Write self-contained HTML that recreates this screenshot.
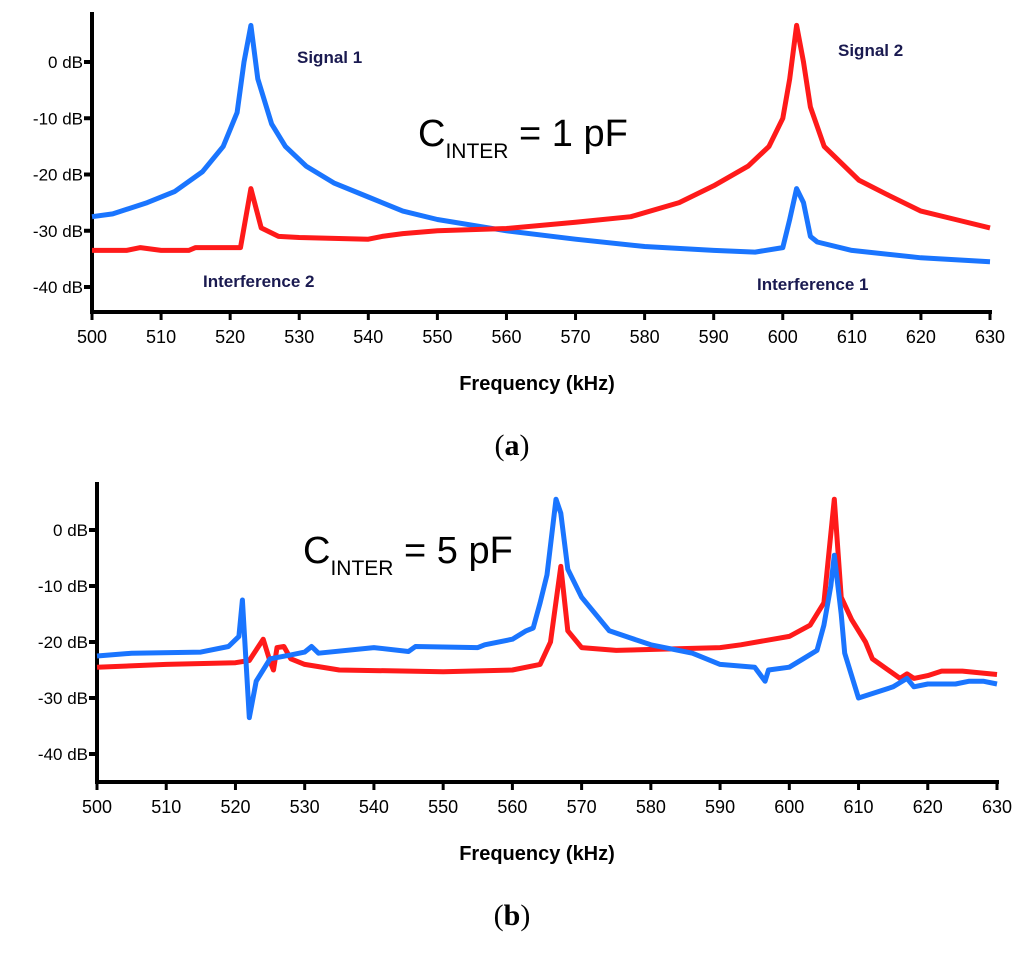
<!DOCTYPE html>
<html><head><meta charset="utf-8">
<style>
body{margin:0;background:#fff;}
svg text{font-family:"Liberation Sans",sans-serif;}
</style></head>
<body>
<svg width="1024" height="952" xmlns="http://www.w3.org/2000/svg">
<g id="chartA"></g>
<g id="chartB"></g>
<text x="512" y="455" text-anchor="middle" style="font-family:'Liberation Serif',serif;font-size:30px">(<tspan font-weight="bold">a</tspan>)</text>
<text x="512" y="925" text-anchor="middle" style="font-family:'Liberation Serif',serif;font-size:30px">(<tspan font-weight="bold">b</tspan>)</text>
</svg>
<script>
const xTicks=[500,510,520,530,540,550,560,570,580,590,600,610,620,630];
const yTicks=[0,-10,-20,-30,-40];
const aBlueF=[500,503,508,512,516,519,521,522,523,524,526,528,531,535,540,545,550,560,570,580,590,596,600,601,602,603,604,605,610,620,630];
const aBlueV=[-27.5,-27,-25,-23,-19.5,-15,-9,0,6.5,-3,-11,-15,-18.5,-21.5,-24,-26.5,-28,-30,-31.5,-32.8,-33.5,-33.8,-33,-28,-22.5,-25,-31,-32,-33.5,-34.8,-35.5];
const aRedF=[500,505,507,510,514,515,520,521.5,523,524.5,527,530,540,542,545,550,560,570,578,585,590,595,598,600,601,602,603,604,606,611,615,620,625,630];
const aRedV=[-33.5,-33.5,-33,-33.5,-33.5,-33,-33,-33,-22.5,-29.5,-31,-31.2,-31.5,-31,-30.5,-30,-29.6,-28.5,-27.5,-25,-22,-18.5,-15,-10,-3,6.5,0,-8,-15,-21,-23.5,-26.5,-28,-29.5];
const bBlueF=[500,505,515,519,520.5,521,522,523,525,528,530,531,532,540,545,546,555,556,560,562,563,564,565,566.3,567,568,570,574,580,586,590,595,596.5,597,600,602,604,605,606,606.5,607.5,608,610,615,617,618,620,624,626,628,630];
const bBlueV=[-22.5,-22,-21.8,-20.8,-19,-12.5,-33.5,-27,-23,-22.3,-21.8,-20.8,-22,-21,-21.7,-20.8,-21,-20.5,-19.5,-18,-17.5,-13,-8,5.5,3,-7,-12,-18,-20.5,-22,-24,-24.5,-27,-25,-24.5,-23,-21.5,-17,-10,-4.5,-15,-22,-30,-28,-26.5,-28,-27.5,-27.5,-27,-27,-27.5];
const bRedF=[500,510,520,522,524,525,525.5,526,527,528,530,535,550,560,564,565.5,567,568,570,575,590,593,600,603,605,606.5,607.5,609,611,612,616,617,618,620,622,625,630];
const bRedV=[-24.5,-24,-23.7,-23.3,-19.5,-23.5,-25,-21,-20.8,-23,-24,-25,-25.3,-25,-24,-20,-6.5,-18,-21,-21.5,-21,-20.5,-19,-17,-13,5.5,-12,-16,-20,-23,-26.5,-25.7,-26.5,-26,-25.2,-25.2,-25.8];
const NS="http://www.w3.org/2000/svg";
function mk(p,t,a){const e=document.createElementNS(NS,t);for(const k in a)e.setAttribute(k,a[k]);p.appendChild(e);return e;}
function draw(g,o){
 const xs=f=>o.x0+(f-500)*(o.x1-o.x0)/130;
 const ys=v=>o.y0-v*(o.y40-o.y0)/40;
 let e=mk(g,'line',{x1:o.x0,y1:o.top,x2:o.x0,y2:o.bot,stroke:'#000','stroke-width':4});
 
 e=mk(g,'line',{x1:o.x0-2,y1:o.bot,x2:o.x1+2,y2:o.bot,stroke:'#000','stroke-width':4});
 
 xTicks.forEach(t=>{const x=xs(t);
  let l=mk(g,'line',{x1:x,y1:o.bot,x2:x,y2:o.bot+8,stroke:'#000','stroke-width':3});
  
  let tx=mk(g,'text',{x:x,y:o.bot+31,'text-anchor':'middle','font-size':18});tx.textContent=t;
  });
 yTicks.forEach(t=>{const y=ys(t);
  let l=mk(g,'line',{x1:o.x0-8,y1:y,x2:o.x0,y2:y,stroke:'#000','stroke-width':4});
  
  let tx=mk(g,'text',{x:o.x0-9,y:y+6,'text-anchor':'end','font-size':17});tx.textContent=t+' dB';
  });
 let tt=mk(g,'text',{x:537,y:o.bot+78,'text-anchor':'middle','font-size':20,'font-weight':'bold'});tt.textContent='Frequency (kHz)';
 
 o.series.forEach(s=>{const d=s.f.map((f,i)=>(i?'L':'M')+xs(f).toFixed(1)+','+ys(s.v[i]).toFixed(1)).join('');
  let p=mk(g,'path',{d:d,fill:'none',stroke:s.c,'stroke-width':5,'stroke-linejoin':'round'});
  });
 let c=mk(g,'text',{x:o.cx,y:o.cy,'font-size':38});c.innerHTML='C<tspan font-size="21" dy="12">INTER</tspan><tspan dy="-12"> = '+o.ct+'</tspan>';
 
 (o.ann||[]).forEach(a=>{let t=mk(g,'text',{x:a[1],y:a[2],'font-size':17,fill:'#1a1a50','font-weight':'bold'});t.textContent=a[0];
  });
}
draw(document.getElementById('chartA'),{x0:92,x1:990,top:12,bot:312,y0:62,y40:287,cx:418,cy:146,ct:'1 pF',
 series:[{f:aBlueF,v:aBlueV,c:'#1a75ff',n:'series-blue-a'},{f:aRedF,v:aRedV,c:'#ff1a1a',n:'series-red-a'}],
 ann:[['Signal 1',297,63],['Signal 2',838,56],['Interference 2',203,287],['Interference 1',757,290]]});
draw(document.getElementById('chartB'),{x0:97,x1:997,top:482,bot:782,y0:530,y40:754,cx:303,cy:563,ct:'5 pF',
 series:[{f:bRedF,v:bRedV,c:'#ff1a1a',n:'series-red-b'},{f:bBlueF,v:bBlueV,c:'#1a75ff',n:'series-blue-b'}]});
</script>
</body></html>
